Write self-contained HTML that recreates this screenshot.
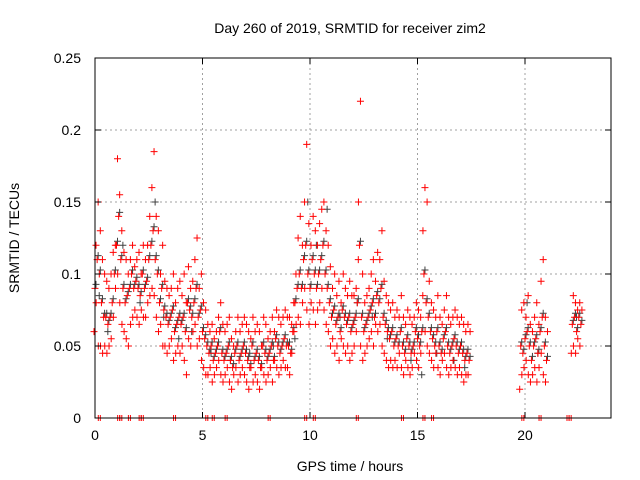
<!DOCTYPE html>
<html><head><meta charset="utf-8"><style>
body{margin:0;background:#fff}
svg{display:block;font-family:"Liberation Sans",sans-serif}
</style></head><body>
<svg id="chart" width="640" height="480">
<text x="350" y="33" font-size="14" text-anchor="middle">Day 260 of 2019, SRMTID for receiver zim2</text>
<text x="350" y="471" font-size="14" text-anchor="middle">GPS time / hours</text>
<text transform="translate(19,238) rotate(-90)" font-size="14" text-anchor="middle">SRMTID / TECUs</text>
<g id="grid"></g><g id="black"></g><g id="red"></g><g id="axes"></g>
</svg>
<script>
const xTicks=[0,5,10,15,20];
const yTicks=[0,0.05,0.1,0.15,0.2,0.25];
const yTickLabels=["0","0.05","0.1","0.15","0.2","0.25"];
const mainHours=[0.0,0.1,0.2,0.3,0.4,0.5,0.6,0.7,0.8,0.9,1.0,1.1,1.2,1.3,1.4,1.5,1.6,1.7,1.8,1.9,2.0,2.1,2.2,2.3,2.4,2.5,2.6,2.7,2.8,2.9,3.0,3.1,3.2,3.3,3.4,3.5,3.6,3.7,3.8,3.9,4.0,4.1,4.2,4.3,4.4,4.5,4.6,4.7,4.8,4.9,5.0,5.1,5.2,5.3,5.4,5.5,5.6,5.7,5.8,5.9,6.0,6.1,6.2,6.3,6.4,6.5,6.6,6.7,6.8,6.9,7.0,7.1,7.2,7.3,7.4,7.5,7.6,7.7,7.8,7.9,8.0,8.1,8.2,8.3,8.4,8.5,8.6,8.7,8.8,8.9,9.0,9.1,9.2,9.3,9.4,9.5,9.6,9.7,9.8,9.9,10.0,10.1,10.2,10.3,10.4,10.5,10.6,10.7,10.8,10.9,11.0,11.1,11.2,11.3,11.4,11.5,11.6,11.7,11.8,11.9,12.0,12.1,12.2,12.3,12.4,12.5,12.6,12.7,12.8,12.9,13.0,13.1,13.2,13.3,13.4,13.5,13.6,13.7,13.8,13.9,14.0,14.1,14.2,14.3,14.4,14.5,14.6,14.7,14.8,14.9,15.0,15.1,15.2,15.3,15.4,15.5,15.6,15.7,15.8,15.9,16.0,16.1,16.2,16.3,16.4,16.5,16.6,16.7,16.8,16.9,17.0,17.1,17.2,17.3,17.4,19.8,19.9,20.0,20.1,20.2,20.3,20.4,20.5,20.6,20.7,20.8,20.9,21.0,22.2,22.3,22.4,22.5,22.6];
const srmtidMid=[.09,.11,.10,.08,.07,.07,.065,.07,.08,.10,.12,.14,.11,.09,.08,.085,.09,.10,.09,.095,.09,.085,.10,.09,.095,.11,.12,.13,.11,.10,.08,.09,.075,.07,.065,.07,.075,.06,.065,.07,.065,.07,.06,.08,.075,.07,.08,.09,.07,.075,.06,.055,.05,.045,.05,.04,.045,.05,.06,.045,.04,.045,.05,.04,.035,.045,.05,.04,.045,.05,.045,.04,.035,.05,.04,.045,.04,.035,.05,.045,.04,.045,.05,.04,.055,.05,.045,.05,.055,.05,.05,.045,.06,.08,.09,.10,.09,.11,.12,.10,.09,.11,.10,.09,.10,.11,.12,.10,.09,.08,.07,.075,.065,.07,.06,.075,.07,.065,.07,.06,.065,.07,.08,.12,.07,.06,.065,.07,.075,.08,.07,.085,.08,.09,.07,.065,.06,.055,.06,.05,.055,.05,.06,.05,.045,.055,.05,.045,.05,.06,.055,.05,.06,.10,.08,.07,.06,.055,.05,.06,.05,.045,.055,.06,.05,.045,.05,.055,.05,.045,.05,.045,.04,.045,.04,.05,.045,.055,.06,.05,.04,.05,.055,.045,.06,.07,.05,.04,.065,.07,.06,.07,.065];
const srmtidHigh=[.12,.15,.13,.11,.10,.095,.09,.10,.115,.12,.18,.155,.13,.115,.11,.10,.11,.12,.105,.11,.115,.10,.12,.11,.12,.14,.16,.185,.14,.13,.10,.12,.095,.09,.085,.09,.10,.08,.09,.095,.085,.10,.08,.105,.09,.095,.11,.125,.09,.10,.08,.075,.065,.06,.065,.055,.06,.07,.08,.065,.06,.065,.07,.055,.05,.06,.07,.06,.065,.07,.065,.06,.055,.07,.06,.065,.06,.05,.07,.065,.055,.06,.07,.06,.075,.07,.065,.07,.075,.07,.07,.065,.08,.10,.125,.14,.12,.15,.19,.135,.12,.14,.13,.12,.135,.145,.15,.13,.12,.105,.09,.10,.085,.095,.08,.10,.09,.085,.095,.085,.085,.09,.11,.22,.10,.08,.085,.09,.10,.11,.095,.115,.11,.13,.095,.085,.08,.075,.08,.07,.075,.07,.085,.07,.065,.075,.07,.065,.07,.08,.075,.07,.085,.16,.15,.095,.08,.075,.07,.085,.07,.065,.075,.085,.07,.065,.07,.075,.07,.065,.07,.065,.06,.065,.06,.075,.08,.07,.085,.065,.06,.07,.08,.065,.095,.11,.07,.06,.085,.08,.075,.08,.075];
const srmtidLow=[.06,.08,.05,.05,.045,.05,.045,.05,.055,.07,.09,.10,.08,.065,.06,.055,.05,.065,.07,.075,.07,.065,.075,.07,.07,.08,.085,.09,.085,.07,.06,.065,.05,.05,.045,.05,.055,.04,.045,.05,.045,.05,.04,.03,.055,.05,.06,.065,.05,.055,.04,.035,.03,.03,.035,.025,.03,.035,.04,.03,.025,.03,.035,.025,.02,.03,.035,.025,.03,.035,.03,.025,.02,.035,.025,.03,.025,.02,.035,.03,.025,.03,.035,.025,.04,.035,.03,.035,.04,.035,.035,.03,.045,.06,.065,.07,.065,.08,.09,.075,.065,.08,.075,.065,.075,.08,.09,.075,.065,.06,.05,.055,.045,.05,.04,.055,.05,.045,.05,.04,.045,.05,.06,.15,.05,.04,.045,.05,.055,.06,.05,.065,.06,.065,.05,.045,.04,.035,.04,.035,.04,.035,.045,.035,.03,.04,.035,.03,.035,.045,.04,.035,.045,.13,.06,.05,.045,.04,.035,.045,.035,.03,.04,.045,.035,.03,.035,.04,.035,.03,.035,.03,.025,.03,.03,.02,.03,.035,.04,.03,.025,.03,.035,.025,.035,.045,.03,.025,.045,.05,.045,.055,.05];
const otherHours=[0.15,0.55,1.25,2.05,2.75,3.15,3.85,4.45,5.35,6.25,7.15,8.25,9.25,9.85,10.25,10.75,11.35,12.15,12.85,13.55,14.65,15.15,15.85,16.65,17.15,20.05,20.55,22.35];
const otherValues=[.085,.06,.12,.08,.15,.07,.055,.06,.045,.04,.045,.05,.055,.15,.12,.145,.07,.08,.07,.055,.04,.03,.045,.04,.035,.08,.045,.07];
const zeroHours=[0.2,1.1,1.2,1.6,2.1,2.2,3.7,5.2,5.5,6.1,8.1,9.8,10.2,12.2,14.3,15.3,15.7,19.9,20.7,22.0,22.1];

const L=95,R=611,T=58,B=418,xMax=24,yMax=0.25;
const xs=v=>L+(R-L)*v/xMax, ys=v=>B-(B-T)*v/yMax;
const NS="http://www.w3.org/2000/svg";
function mk(tag,attrs,parent){const e=document.createElementNS(NS,tag);for(const k in attrs)e.setAttribute(k,attrs[k]);parent.appendChild(e);return e;}
const grid=document.getElementById('grid'),axes=document.getElementById('axes');
xTicks.forEach(t=>{
  if(t>0){const g=mk('line',{x1:xs(t),x2:xs(t),y1:T,y2:B,stroke:'#a0a0a0','stroke-dasharray':'2,3'},grid);
  
  }
  const lb=mk('text',{x:xs(t),y:B+22,'font-size':14,'text-anchor':'middle'},axes);lb.textContent=t;
  
  
  mk('line',{x1:xs(t),x2:xs(t),y1:B,y2:B-6,stroke:'#000'},axes);
  mk('line',{x1:xs(t),x2:xs(t),y1:T,y2:T+6,stroke:'#000'},axes);
});
yTicks.forEach((t,i)=>{
  if(t>0&&t<yMax){const g=mk('line',{x1:L,x2:R,y1:ys(t),y2:ys(t),stroke:'#a0a0a0','stroke-dasharray':'2,3'},grid);
  
  }
  const lb=mk('text',{x:L-14,y:ys(t)+5,'font-size':14,'text-anchor':'end'},axes);lb.textContent=yTickLabels[i];
  
  
  mk('line',{x1:L,x2:L+6,y1:ys(t),y2:ys(t),stroke:'#000'},axes);
  mk('line',{x1:R,x2:R-6,y1:ys(t),y2:ys(t),stroke:'#000'},axes);
});
const fr=mk('rect',{x:L,y:T,width:R-L,height:B-T,fill:'none',stroke:'#000'},axes);


function plus(g,x,y,c){const p=mk('path',{d:`M${x-3.5},${y}h7M${x},${y-3.5}v7`,stroke:c,'stroke-width':1,fill:'none'},g);
  
  }
const blk=document.getElementById('black'),red=document.getElementById('red');
otherHours.forEach((h,i)=>plus(blk,xs(h)+1,ys(otherValues[i]),'#404040'));
mainHours.forEach((h,i)=>{
  plus(blk,xs(h)+1,ys(srmtidMid[i])-4,'#404040');
  plus(red,xs(h),ys(srmtidMid[i]),'#ff0000');
  plus(red,xs(h)+1,ys(srmtidHigh[i]),'#ff0000');
  plus(red,xs(h)-1,ys(srmtidLow[i]),'#ff0000');
});
zeroHours.forEach(h=>{const p=mk('path',{d:`M${xs(h)-1},${B-3}v6M${xs(h)+1},${B-3}v6`,stroke:'#ff0000'},red);
  
  });
</script>
</body></html>
